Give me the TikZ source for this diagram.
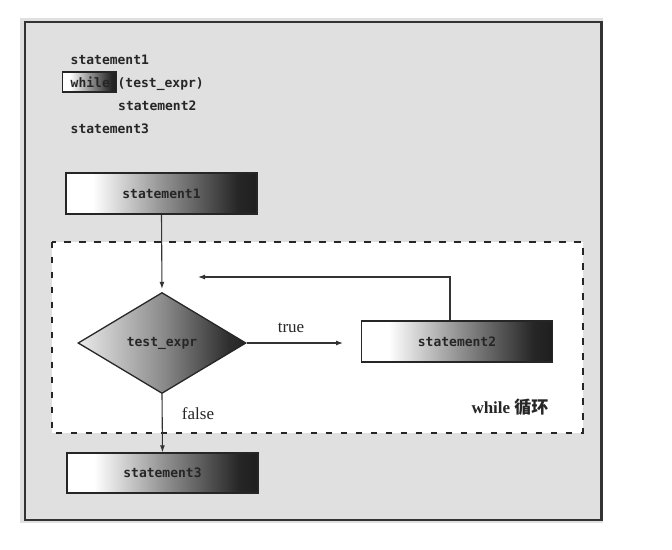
\documentclass[tikz,border=0pt]{standalone}
\usepackage{fontspec}
\setmainfont{Liberation Serif}
\setmonofont{DejaVu Sans Mono}
\newfontfamily\cjk{Noto Sans CJK SC}
\usetikzlibrary{shapes.geometric,arrows.meta}

% white on the left, dark on the right
\pgfdeclarehorizontalshading{boxgrad}{100bp}{color(0bp)=(white); color(25bp)=(white); color(32bp)=(white); color(50bp)=(black!42); color(70bp)=(black!85); color(75bp)=(black!88); color(100bp)=(black!88)}
\pgfdeclarehorizontalshading{diagrad}{100bp}{color(0bp)=(black!8); color(25bp)=(black!8); color(50bp)=(black!45); color(70bp)=(black!82); color(75bp)=(black!85); color(100bp)=(black!85)}

\tikzset{
  codetext/.style={anchor=base west, inner sep=0pt, font=\fontsize{13}{15}\ttfamily\bfseries, text=black!85},
  stmtbox/.style={draw=black!85, line width=1.3pt, shading=boxgrad, minimum width=191pt, minimum height=41pt, inner sep=0pt, font=\fontsize{13}{15}\ttfamily\bfseries, text=black!85},
  testbox/.style={diamond, draw=black!85, line width=1.3pt, shading=diagrad, minimum width=168pt, minimum height=101pt, aspect=1.66, inner sep=0pt, font=\fontsize{13}{15}\ttfamily\bfseries, text=black!85},
  flow/.style={draw=black!80, line width=1.1pt, -{Latex[length=7pt,width=5pt]}},
  serifnote/.style={font=\fontsize{17}{19}\selectfont, text=black!85}
}

\begin{document}
\begin{tikzpicture}[x=1pt, y=-1pt]
\useasboundingbox (0,0) rectangle (672,549);
\fill[white] (0,0) rectangle (672,549);

% Page background and frame
\fill[black!12] (20,18) rectangle (603,523);
\draw[black!80, line width=2.5pt] (25,22) rectangle (601.5,520);

% Source code
\node[codetext] (c1) at (70.5,64) {statement1};
\shade[shading=boxgrad, draw=black!85, line width=1.3pt] (62.5,72) rectangle (116.5,92);
\node[codetext] (c2) at (70.5,87) {while (test\_expr)};
\node[codetext] (c3) at (118,110) {statement2};
\node[codetext] (c4) at (70.5,133) {statement3};

% Loop region
\draw[black!85, fill=white, line width=2pt, dash pattern=on 6.5pt off 8.5pt] (51.5,241.5) rectangle (582.5,432.5);

% Flow chart
\node[stmtbox] (s1) at (161.5,193.5) {statement1};
\node[testbox] (test) at (162,343) {test\_expr};
\node[stmtbox] (s2) at (457,341.5) {statement2};
\node[stmtbox, minimum height=40pt] (s3) at (162.5,473) {statement3};
\coordinate (trueend) at (343,343);
\coordinate (back) at (198,277);

\draw[flow, shorten >=3pt] (s1.south) -- (test.north);
\draw[flow] (test.east) -- (trueend);
\draw[flow] ([xshift=-7pt]s2.north) |- (back);
\draw[flow] (test.south) -- (s3.north);

% Labels
\node[serifnote] (truelbl) at (291,328) {true};
\node[serifnote] (falselbl) at (198,414) {false};
\node[serifnote, font=\fontsize{17}{19}\selectfont\bfseries] (looplbl) at (510,407) {while {\cjk 循环}};
\end{tikzpicture}
\end{document}
